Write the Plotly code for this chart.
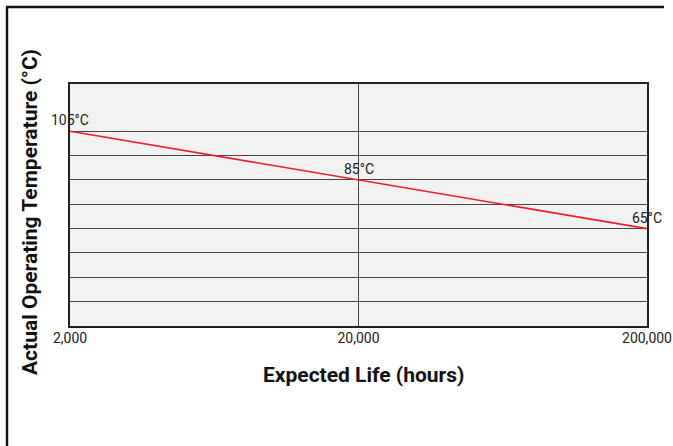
import math
import plotly.graph_objects as go

life_hours = [2000, 20000, 200000]
temps_c = [105, 85, 65]
point_labels = ["105°C", "85°C", "65°C"]
x_tick_vals = [2000, 20000, 200000]
x_tick_text = ["2,000", "20,000", "200,000"]
y_grid_vals = [25, 35, 45, 55, 65, 75, 85, 95, 105]

W, H = 673, 446
ML, MR, MT, MB = 70, 26, 84, 120
pw = W - ML - MR
ph = H - MT - MB

def px_x(p):
    return (p - ML) / pw

def px_y(p):
    return (H - MB - p) / ph

BOLD = "Roboto, sans-serif"
REG = "Roboto, sans-serif"

fig = go.Figure()
fig.add_trace(go.Scatter(
    x=life_hours, y=temps_c, mode="lines",
    line=dict(color="#ee1d23", width=1.6),
    hoverinfo="skip", showlegend=False,
))

annotations = []
for xv, yv, t in zip(life_hours, temps_c, point_labels):
    annotations.append(dict(x=math.log10(xv), y=yv, xref="x", yref="y", text=t,
                            showarrow=False, yshift=11,
                            font=dict(family=REG, size=14, color="#222")))
annotations.append(dict(x=px_x(363), y=px_y(374.5), xref="paper", yref="paper",
                        text="<b>Expected Life (hours)</b>", showarrow=False,
                        xanchor="center", yanchor="middle",
                        font=dict(family=BOLD, size=21, color="#111")))
annotations.append(dict(x=px_x(30), y=px_y(212), xref="paper", yref="paper",
                        text="<b>Actual Operating Temperature (°C)</b>", showarrow=False,
                        textangle=-90, xanchor="center", yanchor="middle",
                        font=dict(family=BOLD, size=21, color="#111")))

shapes = [
    dict(type="line", xref="paper", yref="paper", x0=px_x(7), x1=px_x(7),
         y0=px_y(7), y1=px_y(450), line=dict(color="#111", width=2.4)),
    dict(type="line", xref="paper", yref="paper", x0=px_x(6), x1=px_x(664),
         y0=px_y(7), y1=px_y(7), line=dict(color="#111", width=2.4)),
]

fig.update_layout(
    width=W, height=H,
    margin=dict(l=ML, r=MR, t=MT, b=MB, pad=0, autoexpand=False),
    paper_bgcolor="white", plot_bgcolor="#f2f2f2",
    annotations=annotations, shapes=shapes,
    xaxis=dict(type="log", range=[math.log10(2000), math.log10(200000)],
               tickvals=x_tick_vals, ticktext=x_tick_text, automargin=False,
               showgrid=True, gridcolor="#444", gridwidth=1,
               showline=True, linecolor="#222", linewidth=1.6, mirror=True,
               ticks="", ticklen=0, zeroline=False, ticklabelstandoff=-2,
               tickfont=dict(family=REG, size=14, color="#222")),
    yaxis=dict(range=[25, 124.4], tickvals=y_grid_vals, showticklabels=False,
               automargin=False,
               showgrid=True, gridcolor="#444", gridwidth=1,
               showline=True, linecolor="#222", linewidth=1.6, mirror=True,
               ticks="", zeroline=False),
)
fig.write_html("out.html", config={"displayModeBar": False},
               post_script="document.body.style.margin='0';document.body.style.padding='0';document.body.style.overflow='hidden';")
